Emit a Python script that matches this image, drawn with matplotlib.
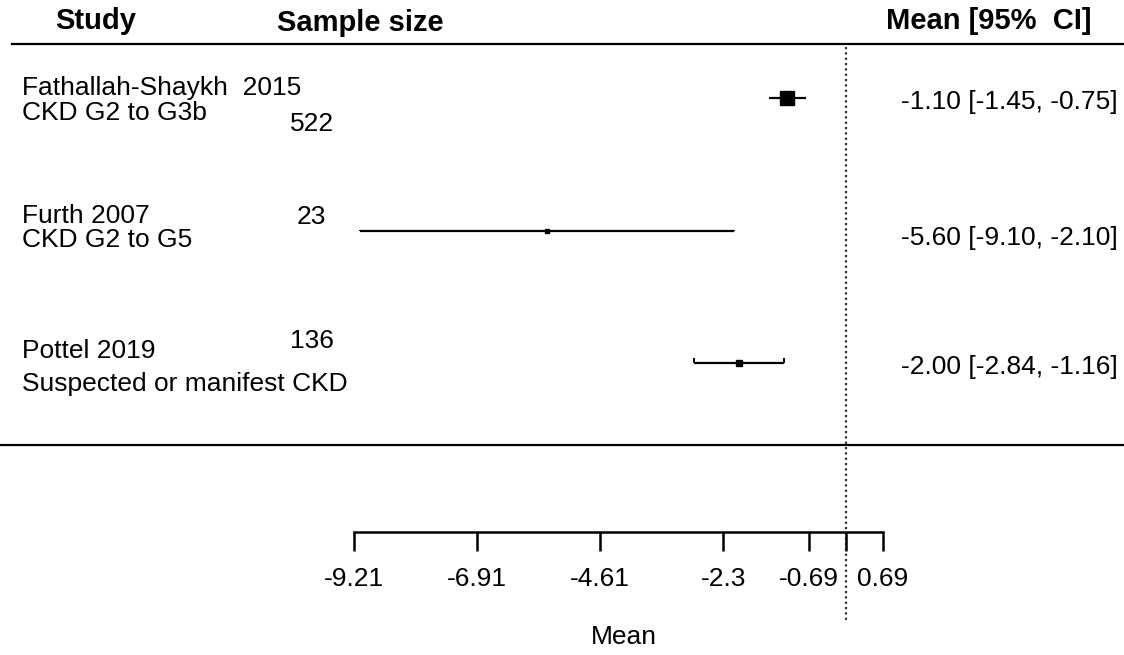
import matplotlib
matplotlib.use('Agg')
import matplotlib.pyplot as plt
import matplotlib.transforms as mtransforms

plt.rcParams['font.family'] = ['Liberation Sans', 'DejaVu Sans']

# data ---------------------------------------------------------------
studies = ['Fathallah-Shaykh  2015', 'Furth 2007', 'Pottel 2019']
groups = ['CKD G2 to G3b', 'CKD G2 to G5', 'Suspected or manifest CKD']
sizes = [522, 23, 136]
means = [-1.10, -5.60, -2.00]
lower = [-1.45, -9.10, -2.84]
upper = [-0.75, -2.10, -1.16]
ticks = [-9.21, -6.91, -4.61, -2.3, -0.69, 0, 0.69]
tick_labels = ['-9.21', '-6.91', '-4.61', '-2.3', '-0.69', '', '0.69']

# layout (pixel rows) -----------------------------------------------
W, H = 1124, 655
row_y = [98, 231, 363]
name_y = [88, 216, 351]
group_y = [113, 240, 384]
n_y = [124, 217, 341]
n_x = [290, 297, 290]
ci_y = [102, 238, 367]
box_ms = [10, 2.5, 4]
cap_h = [0, 1, 5]

fig = plt.figure(figsize=(W / 100, H / 100), dpi=100)
ax = fig.add_axes([0, 0, 1, 1])
ax.axis('off')
x0, scale = 846, 53.4
ax.set_xlim(-x0 / scale, (W - x0) / scale)
ax.set_ylim(H, 0)
tr = mtransforms.blended_transform_factory(ax.transAxes, ax.transData)

body = 19
head = 21

# headers
ax.text(96 / W, 21, 'Study', transform=tr, ha='center', va='center', fontsize=head, fontweight='bold')
ax.text(277 / W, 23, 'Sample size', transform=tr, ha='left', va='center', fontsize=head, fontweight='bold')
ax.text(1091 / W, 21, 'Mean [95%  CI]', transform=tr, ha='right', va='center', fontsize=head, fontweight='bold')
ax.plot([12 / W, 1], [44, 44], transform=tr, color='black', lw=1.6)
ax.plot([0, 1], [445, 445], transform=tr, color='black', lw=1.6)

# reference line
ax.vlines(0, 47, 622, colors='#333333', linestyles=(0, (1.0, 1.4)), lw=1.6)

for i in range(len(studies)):
    ax.text(22 / W, name_y[i], studies[i], transform=tr, ha='left', va='center', fontsize=body)
    ax.text(22 / W, group_y[i], groups[i], transform=tr, ha='left', va='center', fontsize=body)
    ax.text(n_x[i] / W, n_y[i], str(sizes[i]), transform=tr, ha='left', va='center', fontsize=body)
    y = row_y[i]
    ax.plot([lower[i], upper[i]], [y, y], color='black', lw=1.6, solid_capstyle='butt')
    if cap_h[i]:
        ax.vlines([lower[i], upper[i]], y - cap_h[i], y, colors='black', lw=1.4)
    ax.plot(means[i], y, 's', ms=box_ms[i], color='black')
    ax.text(1118 / W, ci_y[i], '%.2f [%.2f, %.2f]' % (means[i], lower[i], upper[i]),
            transform=tr, ha='right', va='center', fontsize=body)

# x axis
ax.plot([ticks[0], ticks[-1]], [532, 532], color='black', lw=1.8)
ax.vlines(ticks, 532, 551, colors='black', lw=1.8)
for t, lab in zip(ticks, tick_labels):
    ax.text(t, 579, lab, ha='center', va='center', fontsize=body)
ax.text((ticks[0] + ticks[-1]) / 2 + 0.1, 637, 'Mean', ha='center', va='center', fontsize=body)

fig.savefig('out.png', dpi=100)
